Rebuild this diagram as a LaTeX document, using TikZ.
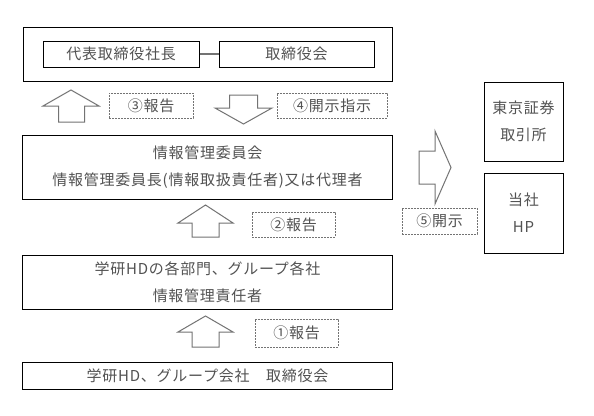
\documentclass[tikz,border=0pt]{standalone}
\usepackage{fontspec}
\setmainfont[LetterSpace=5]{Noto Sans CJK JP}
\usetikzlibrary{positioning}
\definecolor{TextGray}{gray}{0.32}
\definecolor{LineGray}{gray}{0.45}

\begin{document}
\begin{tikzpicture}[
        x=1pt, y=-1pt,
        font=\fontsize{15}{27}\selectfont, text=TextGray,
        box/.style={draw, line width=1pt, align=center, inner sep=0pt},
        note/.style={draw=LineGray, dash pattern=on 2pt off 1pt, line width=0.8pt, inner sep=0pt, minimum height=25pt},
        blk/.style={draw=LineGray, line width=1pt, fill=white, line join=miter},
        node distance=19pt
    ]
        \fill[white] (0,0) rectangle (594,415);
        \useasboundingbox (0,0) rectangle (594,415);

        % management
        \node[box, minimum width=369pt, minimum height=54pt] (exec) at (207.5,54) {};
        \node[box, minimum width=156pt, minimum height=26pt] (pres) at (121,54) {代表取締役社長};
        \node[box, right=of pres, minimum width=155pt, minimum height=26pt] (board) {取締役会};
        \draw[LineGray, line width=2pt] (pres) -- (board);

        \node[box, below=53pt of exec, minimum width=370pt, minimum height=64pt] (comm) {情報管理委員会\\情報管理委員長(情報取扱責任者)又は代理者};
        \node[box, below=55pt of comm, minimum width=370pt, minimum height=54pt] (dept) {学研HDの各部門、グループ各社\\情報管理責任者};
        \node[box, below=52pt of dept, minimum width=370pt, minimum height=27pt] (gboard) {学研HD、グループ会社　取締役会};

        % disclosure
        \node[box, minimum width=79pt, minimum height=79pt] (tse) at (523.5,121.5) {東京証券\\取引所};
        \node[box, below=11pt of tse, minimum width=79pt, minimum height=80pt] (hp) {当社\\HP};

        % labels
        \node[note, minimum width=84pt] (rep3) at (151,105.5) {③報告};
        \node[note, minimum width=110pt] (ins4) at (332,105.5) {④開示指示};
        \node[note, minimum width=83pt] (rep2) at (293.5,224.5) {②報告};
        \node[note, minimum width=83pt, minimum height=28pt] (rep1) at (296.5,333) {①報告};
        \node[note, minimum width=75pt, minimum height=26pt] (dis5) at (439.5,221) {⑤開示};

        % block arrows
        \draw[blk] (58.5,122) -- (58.5,106) -- (43,106) -- (71,90) -- (99,106) -- (84.5,106) -- (84.5,122) -- cycle;
        \draw[blk] (229.5,95) -- (257.5,95) -- (257.5,108) -- (272,108) -- (243.5,124) -- (215,108) -- (229.5,108) -- cycle;
        \draw[blk] (192,237) -- (192,223) -- (178,223) -- (205.5,205) -- (233,223) -- (219,223) -- (219,237) -- cycle;
        \draw[blk] (192,347) -- (192,332) -- (178,332) -- (205.5,316) -- (233,332) -- (219,332) -- (219,347) -- cycle;
        \draw[blk] (419,151) -- (435,151) -- (435,131) -- (451,167.5) -- (435,204) -- (435,184) -- (419,184) -- cycle;
    \end{tikzpicture}
\end{document}
